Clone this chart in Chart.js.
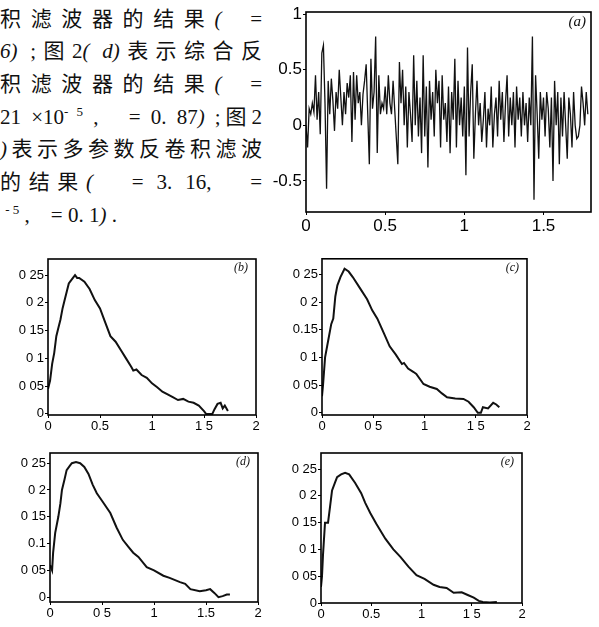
<!DOCTYPE html>
<html>
<head>
<meta charset="utf-8">
<script src="https://cdn.jsdelivr.net/npm/chart.js@4.4.1/dist/chart.umd.min.js"></script>
<style>
  html, body { margin: 0; padding: 0; background: #fff; }
  body { width: 599px; height: 627px; position: relative; overflow: hidden; }
  .cv { position: absolute; }
  .txt {
    position: absolute; left: 0; width: 262px; height: 30px; line-height: 30px;
    font-family: "Noto Sans CJK SC", sans-serif; font-size: 21px; color: #111;
    text-align: justify; text-align-last: justify; overflow: hidden;
  }
  .txt i, .txt .s { font-family: "Liberation Serif", serif; font-size: 21px; }
  .txt sup { font-family: "Liberation Serif", serif; font-size: 13px; line-height: 0; }
  .left { text-align: left; text-align-last: left; }
</style>
</head>
<body>
<div class="txt" style="top:2px">积滤波器的结果<i>(</i>&nbsp;&nbsp;<span class="s">=</span></div>
<div class="txt" style="top:34px"><span class="s"><i>6)</i> ;</span>图<span class="s">2<i>( d)</i></span>表示综合反</div>
<div class="txt" style="top:67px">积滤波器的结果<i>(</i>&nbsp;&nbsp;<span class="s">=</span></div>
<div class="txt" style="top:100px"><span class="s">21 ×10<sup>- 5</sup> ,&nbsp;&nbsp; = 0. 87<i>)</i> ;</span>图<span class="s">2</span></div>
<div class="txt" style="top:132px"><span class="s"><i>)</i></span>表示多参数反卷积滤波</div>
<div class="txt" style="top:165px">的结果<span class="s"><i>(</i>&nbsp;&nbsp; = 3. 16,&nbsp;&nbsp; =</span></div>
<div class="txt left" style="top:198px"><span class="s">&nbsp;<sup>- 5</sup> ,&nbsp;&nbsp;&nbsp; = 0. 1<i>)</i> .</span></div>

<canvas id="chartA" class="cv" width="337" height="234" style="left:262px;top:0px"></canvas>
<canvas id="chartB" class="cv" width="270" height="190" style="left:0px;top:250px"></canvas>
<canvas id="chartC" class="cv" width="260" height="190" style="left:280px;top:250px"></canvas>
<canvas id="chartD" class="cv" width="270" height="187" style="left:0px;top:440px"></canvas>
<canvas id="chartE" class="cv" width="260" height="187" style="left:280px;top:440px"></canvas>

<script>
// --- Data ---
// (a) raw noisy signal, sampled every 0.01 from 0 to 1.78
const aStep = 0.01;
const aValues = [
    0, -0.2, 0.15, 0.1, 0.2, 0.12, 0.45, 0.05, 0.3, -0.08,
    0.65, 0.72, 0.2, -0.57, 0.4, 0.1, 0.42, 0.22, -0.05, 0.3,
    0.15, 0.5, 0.25, 0.0, 0.3, 0.1, 0.38, 0.25, 0.45, -0.15,
    0.48, 0.05, 0.45, 0.2, 0.3, 0.0, 0.28, 0.4, 0.55, 0.1,
    -0.35, 0.6, 0.15, 0.3, 0.8, -0.25, 0.45, 0.1, 0.2, 0.15,
    0.35, 0.1, 0.45, 0.2, 0.1, 0.4, 0.15, -0.1, -0.35, 0.57,
    0.2, 0.5, 0.0, 0.35, -0.2, 0.3, 0.1, -0.15, 0.63, 0.0,
    0.4, -0.1, 0.25, -0.25, 0.63, -0.1, 0.35, -0.38, 0.4, 0.05,
    0.3, -0.1, 0.5, 0.2, 0.4, -0.2, 0.45, 0.05, 0.2, -0.15,
    0.35, -0.25, 0.3, 0.05, 0.6, -0.2, 0.4, 0.0, 0.25, -0.1,
    0.35, -0.45, 0.7, -0.1, 0.3, 0.55, -0.3, 0.1, 0.4, 0.0,
    0.2, -0.15, 0.05, 0.3, -0.2, 0.15, 0.0, 0.35, -0.2, 0.1,
    0.25, -0.1, 0.4, 0.05, 0.3, -0.15, 0.2, 0.45, -0.1, 0.25,
    0.0, 0.3, -0.2, 0.35, 0.05, 0.25, -0.1, 0.3, 0.0, 0.2,
    -0.15, 0.25, 0.0, 0.8, -0.67, 0.45, 0.1, -0.3, 0.3, 0.05,
    0.25, -0.1, 0.3, 0.15, -0.2, 0.25, -0.5, 0.4, 0.0, 0.3,
    -0.35, 0.25, -0.1, 0.3, 0.0, -0.3, 0.25, 0.1, -0.2, 0.3,
    0.0, -0.12, -0.1, 0.0, 0.35, 0.2, 0.0, 0.3, 0.1
];

// (b) result
const bX = [0, 0.02, 0.04, 0.06, 0.08, 0.10, 0.12, 0.14, 0.16, 0.18, 0.20, 0.22, 0.24, 0.26, 0.28, 0.30, 0.35, 0.40, 0.45, 0.50, 0.55, 0.60, 0.65, 0.70, 0.75, 0.80, 0.82, 0.85, 0.90, 0.95, 1.00, 1.05, 1.10, 1.15, 1.20, 1.25, 1.30, 1.35, 1.40, 1.45, 1.50, 1.52, 1.58, 1.60, 1.63, 1.66, 1.68, 1.70, 1.73];
const bY = [0.045, 0.06, 0.09, 0.11, 0.14, 0.155, 0.17, 0.19, 0.205, 0.22, 0.235, 0.24, 0.245, 0.25, 0.245, 0.245, 0.238, 0.225, 0.205, 0.19, 0.165, 0.14, 0.13, 0.115, 0.1, 0.085, 0.078, 0.08, 0.07, 0.065, 0.055, 0.048, 0.04, 0.035, 0.03, 0.025, 0.027, 0.022, 0.02, 0.015, 0.005, 0.0, 0.0, 0.008, 0.018, 0.02, 0.01, 0.015, 0.005];

// (c) result
const cX = [0, 0.01, 0.03, 0.06, 0.09, 0.11, 0.13, 0.15, 0.18, 0.22, 0.26, 0.30, 0.37, 0.44, 0.49, 0.54, 0.60, 0.66, 0.72, 0.78, 0.80, 0.84, 0.89, 0.92, 0.99, 1.05, 1.12, 1.17, 1.22, 1.30, 1.38, 1.43, 1.48, 1.52, 1.55, 1.57, 1.62, 1.67, 1.70, 1.73];
const cY = [0.03, 0.05, 0.1, 0.13, 0.16, 0.17, 0.21, 0.23, 0.245, 0.26, 0.255, 0.245, 0.225, 0.205, 0.185, 0.17, 0.145, 0.12, 0.105, 0.088, 0.09, 0.08, 0.074, 0.07, 0.052, 0.047, 0.043, 0.035, 0.028, 0.026, 0.025, 0.02, 0.01, 0.0, 0.0, 0.01, 0.008, 0.018, 0.015, 0.01];

// (d) result
const dX = [0, 0.02, 0.03, 0.05, 0.08, 0.10, 0.115, 0.14, 0.16, 0.19, 0.21, 0.25, 0.29, 0.33, 0.37, 0.41, 0.45, 0.50, 0.58, 0.64, 0.70, 0.75, 0.80, 0.85, 0.93, 1.00, 1.09, 1.15, 1.25, 1.30, 1.35, 1.44, 1.50, 1.54, 1.58, 1.62, 1.66, 1.70, 1.73];
const dY = [0.06, 0.05, 0.083, 0.12, 0.15, 0.175, 0.2, 0.22, 0.237, 0.245, 0.25, 0.252, 0.25, 0.243, 0.23, 0.21, 0.194, 0.18, 0.157, 0.13, 0.107, 0.095, 0.083, 0.075, 0.056, 0.05, 0.04, 0.036, 0.028, 0.025, 0.015, 0.011, 0.013, 0.015, 0.008, 0.0, 0.002, 0.005, 0.005];

// (e) result
const eX = [0, 0.01, 0.02, 0.04, 0.07, 0.09, 0.11, 0.14, 0.16, 0.20, 0.24, 0.28, 0.34, 0.40, 0.44, 0.49, 0.55, 0.64, 0.72, 0.79, 0.87, 0.95, 1.03, 1.12, 1.18, 1.25, 1.32, 1.40, 1.46, 1.52, 1.57, 1.61, 1.68, 1.75];
const eY = [0.03, 0.05, 0.09, 0.15, 0.15, 0.18, 0.21, 0.225, 0.235, 0.24, 0.243, 0.24, 0.224, 0.205, 0.187, 0.168, 0.148, 0.12, 0.1, 0.086, 0.068, 0.052, 0.045, 0.034, 0.03, 0.028, 0.019, 0.02, 0.015, 0.01, 0.004, 0.002, 0.001, 0.002];

// tick values and their (scanned) labels
const aXTicks = [0, 0.5, 1, 1.5];
const aXLabels = ['0', '0.5', '1', '1.5'];
const aYTicks = [-0.5, 0, 0.5, 1];
const aYLabels = ['-0.5', '0', '0.5', '1'];
const smallXTicks = [0, 0.5, 1, 1.5, 2];
const smallYTicks = [0, 0.05, 0.1, 0.15, 0.2, 0.25];
const bXLabels = ['0', '0.5', '1', '1 5', '2'];
const cXLabels = ['0', '0 5', '1', '1 5', '2'];
const dXLabels = ['0', '0 5', '1', '1.5', '2'];
const eXLabels = ['0', '0.5', '1', '1 5', '2'];
const bYLabels = ['0', '0 05', '0 1', '0 15', '0 2', '0 25'];
const cYLabels = ['0', '0 05', '0 1', '0.15', '0 2', '0 25'];
const dYLabels = ['0', '0 05', '0.1', '0 15', '0 2', '0 25'];
const eYLabels = ['0', '0 05', '0 1', '0 15', '0 2', '0 25'];

// --- Chart logic ---
const boxPlugin = {
    id: 'box',
    afterDraw: (chart) => {
        const { ctx, chartArea: { left, right, top, bottom } } = chart;
        const o = chart.options.plugins.box;
        ctx.save();
        ctx.strokeStyle = '#000';
        ctx.lineWidth = 1.6;
        ctx.strokeRect(left, top, right - left, bottom - top);
        ctx.font = o.font;
        ctx.fillStyle = '#111';
        ctx.textAlign = 'right';
        ctx.textBaseline = 'top';
        ctx.fillText(o.tag, right - o.tagDx, top + o.tagDy);
        ctx.restore();
    }
};

function makeChart(id, points, cfg) {
    new Chart(document.getElementById(id), {
        type: 'line',
        data: {
            datasets: [{
                data: points,
                borderColor: '#111',
                borderWidth: cfg.lineWidth,
                pointRadius: 0,
                tension: 0,
                fill: false
            }]
        },
        options: {
            responsive: false,
            animation: false,
            events: [],
            layout: { padding: cfg.padding },
            plugins: {
                legend: { display: false },
                tooltip: { enabled: false },
                box: { tag: cfg.tag, font: cfg.tagFont, tagDx: cfg.tagDx, tagDy: cfg.tagDy }
            },
            scales: {
                x: {
                    type: 'linear',
                    min: cfg.xMin, max: cfg.xMax,
                    afterBuildTicks: (s) => { s.ticks = cfg.xTicks.map(v => ({ value: v })); },
                    afterFit: (s) => { s.height = cfg.xHeight; },
                    border: { display: false },
                    grid: { display: true, drawOnChartArea: false, tickLength: 3, color: '#000' },
                    ticks: {
                        autoSkip: false, maxRotation: 0, padding: 1, color: '#000',
                        font: { family: 'Liberation Sans', size: cfg.fontSize },
                        callback: (v, i) => cfg.xLabels[i]
                    }
                },
                y: {
                    type: 'linear',
                    min: cfg.yMin, max: cfg.yMax,
                    afterBuildTicks: (s) => { s.ticks = cfg.yTicks.map(v => ({ value: v })); },
                    afterFit: (s) => { s.width = cfg.yWidth; },
                    border: { display: false },
                    grid: { display: true, drawOnChartArea: false, tickLength: 3, color: '#000' },
                    ticks: {
                        autoSkip: false, padding: 1, color: '#000',
                        font: { family: 'Liberation Sans', size: cfg.fontSize },
                        callback: (v, i) => cfg.yLabels[i]
                    }
                }
            }
        },
        plugins: [boxPlugin]
    });
}

const toPoints = (xs, ys) => xs.map((x, i) => ({ x: x, y: ys[i] }));

// (a)
makeChart('chartA', aValues.map((v, i) => ({ x: +(i * aStep).toFixed(2), y: v })), {
    lineWidth: 1.3, padding: { top: 12, right: 8, left: 0, bottom: 0 },
    xMin: 0, xMax: 1.8, yMin: -0.78, yMax: 1.02,
    xTicks: aXTicks, xLabels: aXLabels, yTicks: aYTicks, yLabels: aYLabels,
    xHeight: 22, yWidth: 44, fontSize: 17,
    tag: '(a)', tagFont: 'italic 15px "Liberation Serif"', tagDx: 5, tagDy: 3
});

const small = {
    lineWidth: 2, xMin: 0, xMax: 2, xTicks: smallXTicks, yTicks: smallYTicks,
    fontSize: 13, tagFont: 'italic 12px "Liberation Serif"', tagDx: 8, tagDy: 3
};

makeChart('chartB', toPoints(bX, bY), Object.assign({}, small, {
    padding: { top: 9, right: 14, left: 0, bottom: 0 },
    yMin: -0.002, yMax: 0.279, xHeight: 25, yWidth: 48,
    xLabels: bXLabels, yLabels: bYLabels, tag: '(b)'
}));

makeChart('chartC', toPoints(cX, cY), Object.assign({}, small, {
    padding: { top: 8, right: 13, left: 0, bottom: 0 },
    yMin: -0.004, yMax: 0.278, xHeight: 25, yWidth: 42,
    xLabels: cXLabels, yLabels: cYLabels, tag: '(c)'
}));

makeChart('chartD', toPoints(dX, dY), Object.assign({}, small, {
    padding: { top: 13, right: 12, left: 0, bottom: 0 },
    yMin: -0.009, yMax: 0.269, xHeight: 25, yWidth: 50,
    xLabels: dXLabels, yLabels: dYLabels, tag: '(d)'
}));

makeChart('chartE', toPoints(eX, eY), Object.assign({}, small, {
    padding: { top: 13, right: 18, left: 0, bottom: 0 },
    yMin: 0, yMax: 0.28, xHeight: 24, yWidth: 41,
    xLabels: eXLabels, yLabels: eYLabels, tag: '(e)'
}));
</script>
</body>
</html>
